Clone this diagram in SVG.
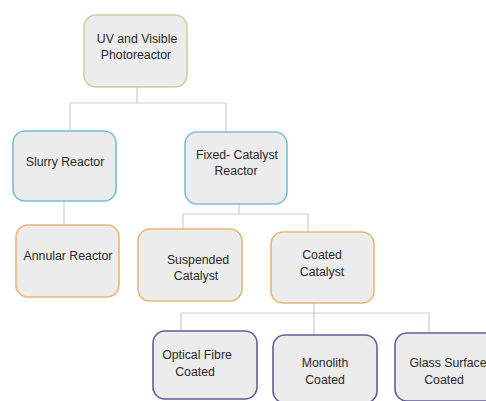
<svg xmlns="http://www.w3.org/2000/svg" width="486" height="401" viewBox="0 0 486 401">
<style>
.box{fill:#ececec;stroke-width:1.6}
.olive{stroke:#cfd09a}
.blue{stroke:#78c2cf}
.orange{stroke:#e9b676}
.purple{stroke:#625e9e}
text{font-family:"Liberation Sans",Arial,sans-serif;font-size:12.3px;fill:#2a2a2a;text-anchor:middle}
.conn{fill:none;stroke:#c4d0d8;stroke-width:1.2}
</style>
<rect width="486" height="401" fill="#ffffff"/>
<g id="connectors">
<path class="conn" d="M137 87V103M70 103H226M70 103V131M226 103V132"/>
<path class="conn" d="M64 201V225"/>
<path class="conn" d="M239 204V214M183 214H308M183 214V229M308 214V232"/>
<path class="conn" d="M314 303V313M181 313H429M181 313V331M314 313V335M429 313V333"/>
</g>
<g id="n-uv">
<rect class="box olive" x="84" y="15" width="103" height="72" rx="12"/>
<text x="137" y="43">UV and Visible</text>
<text x="136" y="59">Photoreactor</text>
</g>
<g id="n-slurry">
<rect class="box blue" x="13" y="131" width="103" height="70" rx="12"/>
<text x="65" y="166">Slurry Reactor</text>
</g>
<g id="n-fixed">
<rect class="box blue" x="185" y="132" width="102" height="72" rx="12"/>
<text x="237" y="159">Fixed- Catalyst</text>
<text x="236" y="175">Reactor</text>
</g>
<g id="n-annular">
<rect class="box orange" x="16" y="225" width="103" height="72" rx="12"/>
<text x="68" y="260">Annular Reactor</text>
</g>
<g id="n-suspended">
<rect class="box orange" x="138" y="229" width="104" height="72" rx="12"/>
<text x="198" y="264">Suspended</text>
<text x="196" y="280">Catalyst</text>
</g>
<g id="n-coated">
<rect class="box orange" x="271" y="232" width="103" height="71" rx="12"/>
<text x="322" y="259">Coated</text>
<text x="322" y="276">Catalyst</text>
</g>
<g id="n-optical">
<rect class="box purple" x="153" y="331" width="104" height="68" rx="12"/>
<text x="197" y="359">Optical Fibre</text>
<text x="195" y="376">Coated</text>
</g>
<g id="n-monolith">
<rect class="box purple" x="273" y="335" width="104" height="68" rx="12"/>
<text x="325" y="367">Monolith</text>
<text x="325" y="384">Coated</text>
</g>
<g id="n-glass">
<rect class="box purple" x="395" y="333" width="104" height="68" rx="12"/>
<text x="448" y="367">Glass Surface</text>
<text x="444" y="384">Coated</text>
</g>
</svg>
